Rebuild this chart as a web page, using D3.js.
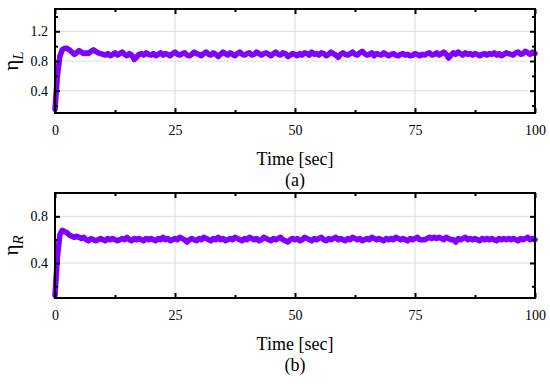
<!DOCTYPE html>
<html>
<head>
<meta charset="utf-8">
<script src="https://cdn.jsdelivr.net/npm/d3@7"></script>
<style>
  body { margin: 0; background: #fff; }
  svg { display: block; font-family: "Liberation Serif", "Times New Roman", serif; }
  .tick text { font-size: 14px; fill: #000; }
  .tick line { stroke: #000; }
</style>
</head>
<body>
<div id="chart"></div>
<script>
// sample times (s), one every 0.5 s
const timeSec = d3.range(0, 100.5, 0.5);

// efficiency left
const etaL = [
  0.15, 0.60, 0.86, 0.95, 0.97, 0.97, 0.95, 0.92, 0.89, 0.91, 0.94, 0.92, 0.90, 0.91, 0.90, 0.93, 0.95, 0.93, 0.91, 0.90,
  0.89, 0.88, 0.90, 0.87, 0.89, 0.91, 0.88, 0.90, 0.92, 0.89, 0.87, 0.90, 0.88, 0.82, 0.85, 0.89, 0.90, 0.88, 0.91, 0.89,
  0.88, 0.90, 0.87, 0.89, 0.91, 0.88, 0.90, 0.89, 0.87, 0.90, 0.92, 0.89, 0.88, 0.90, 0.91, 0.88, 0.87, 0.89, 0.92, 0.90,
  0.89, 0.87, 0.90, 0.92, 0.89, 0.88, 0.91, 0.89, 0.86, 0.89, 0.92, 0.90, 0.88, 0.91, 0.89, 0.87, 0.90, 0.92, 0.89, 0.88,
  0.90, 0.91, 0.88, 0.89, 0.92, 0.90, 0.88, 0.90, 0.91, 0.89, 0.87, 0.90, 0.92, 0.89, 0.88, 0.91, 0.90, 0.86, 0.88, 0.90,
  0.89, 0.87, 0.90, 0.88, 0.91, 0.90, 0.88, 0.92, 0.89, 0.90, 0.88, 0.91, 0.90, 0.87, 0.89, 0.92, 0.90, 0.88, 0.85, 0.89,
  0.91, 0.89, 0.88, 0.90, 0.92, 0.89, 0.88, 0.91, 0.93, 0.90, 0.88, 0.89, 0.91, 0.87, 0.90, 0.89, 0.88, 0.91, 0.89, 0.87,
  0.89, 0.90, 0.88, 0.87, 0.89, 0.90, 0.88, 0.89, 0.87, 0.88, 0.90, 0.89, 0.87, 0.89, 0.88, 0.90, 0.91, 0.88, 0.89, 0.91,
  0.88, 0.90, 0.92, 0.89, 0.84, 0.88, 0.91, 0.89, 0.92, 0.90, 0.88, 0.91, 0.89, 0.90, 0.88, 0.90, 0.89, 0.87, 0.89, 0.90,
  0.88, 0.90, 0.89, 0.91, 0.88, 0.90, 0.87, 0.89, 0.91, 0.90, 0.89, 0.88, 0.91, 0.92, 0.89, 0.90, 0.93, 0.91, 0.89, 0.92,
  0.90
];

// efficiency right
const etaR = [
  0.12, 0.45, 0.64, 0.68, 0.67, 0.66, 0.64, 0.63, 0.62, 0.63, 0.62, 0.61, 0.62, 0.60, 0.59, 0.61, 0.60, 0.59, 0.60, 0.61,
  0.60, 0.59, 0.61, 0.60, 0.61, 0.60, 0.59, 0.60, 0.61, 0.60, 0.62, 0.60, 0.59, 0.61, 0.60, 0.61, 0.60, 0.59, 0.61, 0.60,
  0.61, 0.60, 0.59, 0.61, 0.60, 0.62, 0.60, 0.61, 0.59, 0.60, 0.61, 0.60, 0.62, 0.61, 0.60, 0.58, 0.60, 0.61, 0.60, 0.59,
  0.61, 0.60, 0.62, 0.61, 0.60, 0.59, 0.61, 0.60, 0.62, 0.60, 0.61, 0.59, 0.60, 0.61, 0.60, 0.62, 0.61, 0.60, 0.59, 0.61,
  0.60, 0.62, 0.61, 0.60, 0.61, 0.59, 0.60, 0.62, 0.61, 0.60, 0.59, 0.61, 0.60, 0.61, 0.62, 0.60, 0.59, 0.58, 0.60, 0.61,
  0.60, 0.61, 0.59, 0.60, 0.62, 0.61, 0.60, 0.59, 0.61, 0.60, 0.61, 0.62, 0.60, 0.59, 0.61, 0.60, 0.61, 0.62, 0.60, 0.61,
  0.60, 0.59, 0.61, 0.60, 0.62, 0.61, 0.60, 0.61, 0.59, 0.60, 0.61, 0.60, 0.62, 0.61, 0.60, 0.61, 0.60, 0.59, 0.61, 0.60,
  0.61, 0.60, 0.62, 0.61, 0.60, 0.61, 0.60, 0.59, 0.61, 0.60, 0.61, 0.62, 0.60, 0.60, 0.60, 0.61, 0.62, 0.61, 0.62, 0.61,
  0.62, 0.61, 0.60, 0.62, 0.61, 0.60, 0.60, 0.58, 0.61, 0.60, 0.61, 0.62, 0.60, 0.61, 0.60, 0.61, 0.60, 0.59, 0.61, 0.60,
  0.61, 0.60, 0.61, 0.60, 0.59, 0.61, 0.60, 0.61, 0.60, 0.61, 0.60, 0.61, 0.60, 0.59, 0.61, 0.60, 0.61, 0.62, 0.60, 0.61,
  0.60
];

const xTicks = [0, 25, 50, 75, 100];
const xMinorTicks = [12.5, 37.5, 62.5, 87.5];
const xTitle = 'Time [sec]';

const panels = [
  { sub: 'L', tag: '(a)', values: etaL, domain: [0.1, 1.5], ticks: [0.4, 0.8, 1.2], minor: [0.2, 0.6, 1.0, 1.4], top: 9, bottom: 113 },
  { sub: 'R', tag: '(b)', values: etaR, domain: [0.1, 1.0], ticks: [0.4, 0.8], minor: [0.2, 0.6], top: 193, bottom: 298 }
];

const width = 550, height = 384;
const left = 55, right = 535;
const lineColor = '#8000ff';

const svg = d3.select('#chart').append('svg')
  .attr('width', width)
  .attr('height', height);

const x = d3.scaleLinear().domain([0, 100]).range([left, right]);

panels.forEach(p => {
  const y = d3.scaleLinear().domain(p.domain).range([p.bottom, p.top]);
  const g = svg.append('g');

  // grid
  g.append('g').selectAll('line.gx')
    .data(xTicks.slice(1, -1))
    .join('line')
    .attr('x1', d => x(d)).attr('x2', d => x(d))
    .attr('y1', p.top).attr('y2', p.bottom)
    .attr('stroke', '#dcdcdc').attr('stroke-width', 1);
  g.append('g').selectAll('line.gy')
    .data(p.ticks)
    .join('line')
    .attr('x1', left).attr('x2', right)
    .attr('y1', d => y(d)).attr('y2', d => y(d))
    .attr('stroke', '#dcdcdc').attr('stroke-width', 1);

  // trace
  const line = d3.line()
    .x((d, i) => x(timeSec[i]))
    .y(d => y(d));
  g.append('path')
    .datum(p.values)
    .attr('d', line)
    .attr('fill', 'none')
    .attr('stroke', lineColor)
    .attr('stroke-width', 5.5)
    .attr('stroke-linejoin', 'round')
    .attr('stroke-linecap', 'round');

  // axes, ticks inward on all four sides
  const addAxis = (axis, transform) => {
    const a = g.append('g').attr('transform', transform).call(axis);
    a.attr('font-family', null).attr('font-size', null);
    a.select('.domain').remove();
    a.selectAll('.tick line').attr('stroke-width', 2);
    return a;
  };

  addAxis(d3.axisBottom(x).tickValues(xTicks).tickSize(-5).tickPadding(12), `translate(0,${p.bottom})`);
  addAxis(d3.axisBottom(x).tickValues(xMinorTicks).tickSize(-3).tickFormat(''), `translate(0,${p.bottom})`);
  addAxis(d3.axisTop(x).tickValues(xTicks).tickSize(-5).tickFormat(''), `translate(0,${p.top})`);
  addAxis(d3.axisTop(x).tickValues(xMinorTicks).tickSize(-3).tickFormat(''), `translate(0,${p.top})`);

  addAxis(d3.axisLeft(y).tickValues(p.ticks).tickSize(-5).tickPadding(7).tickFormat(d3.format('.1f')), `translate(${left},0)`);
  addAxis(d3.axisLeft(y).tickValues(p.minor).tickSize(-3).tickFormat(''), `translate(${left},0)`);
  addAxis(d3.axisRight(y).tickValues(p.ticks).tickSize(-5).tickFormat(''), `translate(${right},0)`);
  addAxis(d3.axisRight(y).tickValues(p.minor).tickSize(-3).tickFormat(''), `translate(${right},0)`);

  // frame
  g.append('rect')
    .attr('x', left).attr('y', p.top)
    .attr('width', right - left).attr('height', p.bottom - p.top)
    .attr('fill', 'none').attr('stroke', '#000').attr('stroke-width', 2);

  // y label
  const mid = (p.top + p.bottom) / 2;
  const yl = g.append('text')
    .attr('transform', `translate(18,${mid}) rotate(-90)`)
    .attr('text-anchor', 'middle')
    .style('font-size', '21px');
  yl.append('tspan').text('η');
  yl.append('tspan').attr('dy', 5).style('font-style', 'italic').style('font-size', '15px').text(p.sub);

  // x title and panel tag
  g.append('text')
    .attr('x', (left + right) / 2).attr('y', p.bottom + 52)
    .attr('text-anchor', 'middle')
    .style('font-size', '18px')
    .text(xTitle);
  g.append('text')
    .attr('x', (left + right) / 2).attr('y', p.bottom + 73)
    .attr('text-anchor', 'middle')
    .style('font-size', '18px')
    .text(p.tag);
});
</script>
</body>
</html>
